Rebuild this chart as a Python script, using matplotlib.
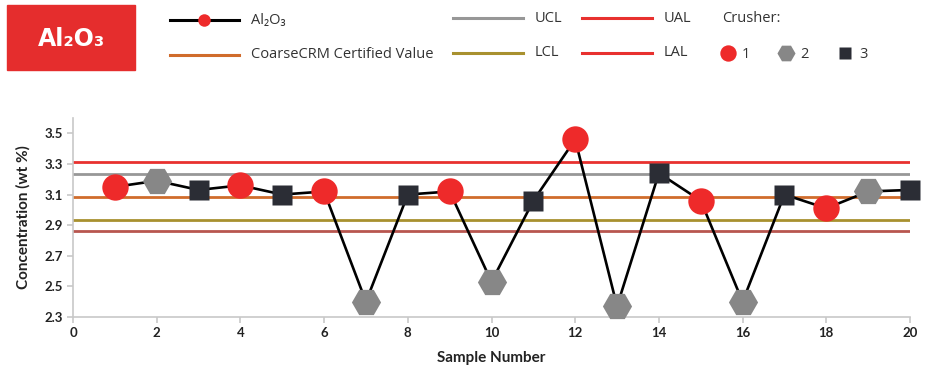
import matplotlib.pyplot as plt
from matplotlib.lines import Line2D
from matplotlib.patches import Rectangle

samples = list(range(1, 21))
al2o3 = [3.15, 3.19, 3.13, 3.16, 3.10, 3.12, 2.40, 3.10, 3.12, 2.53,
         3.06, 3.46, 2.37, 3.24, 3.06, 2.40, 3.10, 3.01, 3.12, 3.13]
crusher = [1, 2, 3, 1, 3, 1, 2, 3, 1, 2, 3, 1, 2, 3, 1, 2, 3, 1, 2, 3]

certified = 3.083
ucl, lcl = 3.236, 2.934
ual, lal = 3.31, 2.86

y_ticks = [2.3, 2.5, 2.7, 2.9, 3.1, 3.3, 3.5]
x_ticks = list(range(0, 21, 2))

RED = '#ee2a2a'
HEX_GREY = '#878787'
DARK = '#2b2d35'
C_UCL = '#979797'
C_CERT = '#d06c2c'
C_LCL = '#a8912f'
C_UAL = '#e8312f'
C_LAL = '#b8564f'

crusher_style = {
    1: dict(marker='o', color=RED, ms=19),
    2: dict(marker='H', color=HEX_GREY, ms=21),
    3: dict(marker='s', color=DARK, ms=15),
}

W, H = 938, 366
fig = plt.figure(figsize=(W / 100, H / 100), dpi=100)

ax = fig.add_axes([73 / W, 1 - 317 / H, (910 - 73) / W, (317 - 118) / H])
ax.axhline(ual, color=C_UAL, lw=2, zorder=1)
ax.axhline(ucl, color=C_UCL, lw=2, zorder=1)
ax.axhline(certified, color=C_CERT, lw=2, zorder=1)
ax.axhline(lcl, color=C_LCL, lw=2, zorder=1)
ax.axhline(lal, color=C_LAL, lw=2, zorder=1)

ax.plot(samples, al2o3, color='black', lw=1.9, zorder=2)
for c, st in crusher_style.items():
    xs = [s for s, k in zip(samples, crusher) if k == c]
    ys = [v for v, k in zip(al2o3, crusher) if k == c]
    ax.plot(xs, ys, ls='none', marker=st['marker'], ms=st['ms'],
            mfc=st['color'], mec='none', zorder=3, clip_on=False)

ax.set_xlim(0, 20)
ax.set_ylim(2.3, 3.6)
ax.set_xticks(x_ticks)
ax.set_yticks(y_ticks)
ax.set_yticklabels([f'{v:.1f}' for v in y_ticks])
for s in ['top', 'right']:
    ax.spines[s].set_visible(False)
for s in ['left', 'bottom']:
    ax.spines[s].set_color('#c8c8c8')
    ax.spines[s].set_linewidth(1.2)
ax.tick_params(colors='#c8c8c8', labelcolor='#222222', length=4, width=1.2)
for lab in ax.get_xticklabels() + ax.get_yticklabels():
    lab.set_fontfamily('Lato')
    lab.set_fontweight('bold')
    lab.set_fontsize(9.5)
ax.set_xlabel('Sample Number', fontfamily='Lato', fontweight='bold',
              fontsize=11, color='#222222', labelpad=8)
ax.set_ylabel('Concentration (wt %)', fontfamily='Lato', fontweight='bold',
              fontsize=11, color='#222222', labelpad=10)

# title badge
fig.add_artist(Rectangle((7 / W, 1 - 70 / H), 128 / W, 65 / H,
                         transform=fig.transFigure, color='#e52d2d'))
fig.text(71 / W, 1 - 39 / H, 'Al₂O₃', color='white', fontsize=17,
         fontweight='bold', fontfamily='DejaVu Sans', ha='center', va='center')


# legend drawn in pixel coordinates
def px(x, y):
    return x / W, 1 - y / H


def key_line(x0, x1, y, color, label):
    (a, b), (c, _) = px(x0, y), px(x1, y)
    fig.add_artist(Line2D([a, c], [b, b], color=color, lw=2.2,
                          transform=fig.transFigure))
    fig.text(*px(x1 + 12, y), label, fontsize=10.5, fontfamily='Open Sans',
             color='#333333', va='center')


def key_marker(x, y, c, label):
    st = crusher_style[c]
    fx, fy = px(x, y)
    fig.add_artist(Line2D([fx], [fy], ls='none', marker=st['marker'],
                          ms=st['ms'] * 0.62, mfc=st['color'], mec='none',
                          transform=fig.transFigure))
    fig.text(*px(x + 14, y + 1), label, fontsize=10.5, fontfamily='Open Sans',
             color='#333333', va='center')


key_line(170, 239, 20, 'black', 'Al₂O₃')
fig.add_artist(Line2D([px(204, 20)[0]], [px(204, 20)[1]], ls='none',
                      marker='o', ms=9, mfc=RED, mec='none',
                      transform=fig.transFigure))
key_line(170, 239, 55, C_CERT, 'CoarseCRM Certified Value')
key_line(453, 523, 18, C_UCL, 'UCL')
key_line(453, 523, 53, C_LCL, 'LCL')
key_line(582, 652, 18, C_UAL, 'UAL')
key_line(582, 652, 53, C_UAL, 'LAL')
fig.text(*px(722, 18), 'Crusher:', fontsize=10.5, fontfamily='Open Sans',
         color='#333333', va='center')
key_marker(728, 53, 1, '1')
key_marker(786, 53, 2, '2')
key_marker(845, 53, 3, '3')

fig.savefig('out.png', dpi=100)
